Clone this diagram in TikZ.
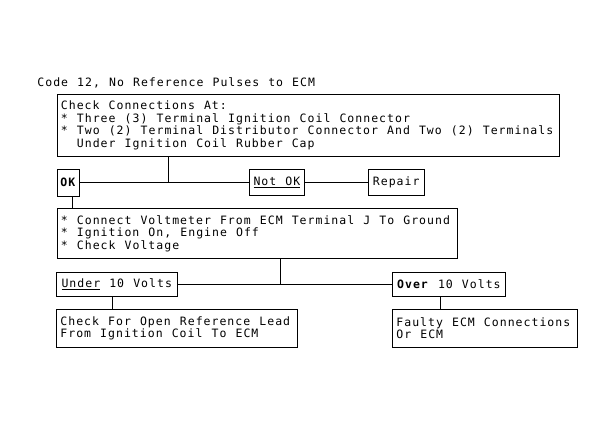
\documentclass[tikz,border=0pt]{standalone}
\usepackage{fontspec}
\setmainfont{DejaVu Sans Mono}[LetterSpace=8.8,WordSpace={1.147,0,0}]
\usetikzlibrary{positioning}
\newcommand{\fs}{\fontsize{11.5}{12.5}\selectfont}

\begin{document}
\begin{tikzpicture}[x=1pt,y=-1pt,line width=0.8pt,
       box/.style={draw,anchor=north west,align=left,inner xsep=4pt,inner ysep=0pt,font=\fs,
                   execute at begin node={\spaceskip=\fontdimen2\font\relax}},
       tag/.style={draw,anchor=north west,inner xsep=2pt,inner ysep=0pt,font=\fs}]
       \useasboundingbox (0,0) rectangle (615,423);
       \node[anchor=base west,inner sep=0pt,font=\fs] (title) at (37,86) {Code 12, No Reference Pulses to ECM};
       \node[box,text width=494pt,minimum height=61.5pt] (check) at (56.5,94.3)
             {Check Connections At:\\{}
              * Three (3) Terminal Ignition Coil Connector\\{}
              * Two (2) Terminal Distributor Connector And Two (2) Terminals\\{}
              \phantom{*} Under Ignition Coil Rubber Cap};
       \node[tag,minimum width=22.5pt,minimum height=26.5pt] (ok)     at (56.7,169)  {\textbf{OK}};
       \node[tag,minimum width=55pt,minimum height=26pt]     (notok)  at (249,169)   {\underline{Not OK}};
       \node[tag,minimum width=56.3pt,minimum height=26pt]   (repair) at (367.7,169) {Repair};
       \node[box,text width=392pt,minimum height=50pt] (volt) at (56.5,208)
             {* Connect Voltmeter From ECM Terminal J To Ground\\{}
              * Ignition On, Engine Off\\{}
              * Check Voltage};
       \node[tag,minimum width=120.7pt,minimum height=24pt] (under) at (56,271.7) {\underline{Under} 10 Volts};
       \node[tag,minimum width=113pt,minimum height=24pt]   (over)  at (392,271.7) {\textbf{Over} 10 Volts};
       \node[box,text width=233.3pt,minimum height=37.7pt] (openlead) at (56,309)
             {Check For Open Reference Lead\\
              From Ignition Coil To ECM};
       \node[box,text width=177pt,minimum height=37.7pt] (faulty) at (392,309)
             {Faulty ECM Connections\\
              Or ECM};
       \coordinate (j1) at (168,181.7);
       \coordinate (j2) at (72.3,195);
       \coordinate (j3) at (280,283.7);
       \coordinate (j4) at (112.7,296);
       \coordinate (j5) at (440,296);
       \draw (check.south -| j1) -- (j1);
       \draw (ok.east) -- (ok.east -| notok.west);
       \draw (notok.east) -- (repair.west);
       \draw (ok.south -| j2) -- (volt.north -| j2);
       \draw (volt.south -| j3) -- (j3);
       \draw (under.east) -- (under.east -| over.west);
       \draw (under.south -| j4) -- (openlead.north -| j4);
       \draw (over.south -| j5) -- (faulty.north -| j5);
\end{tikzpicture}
\end{document}
